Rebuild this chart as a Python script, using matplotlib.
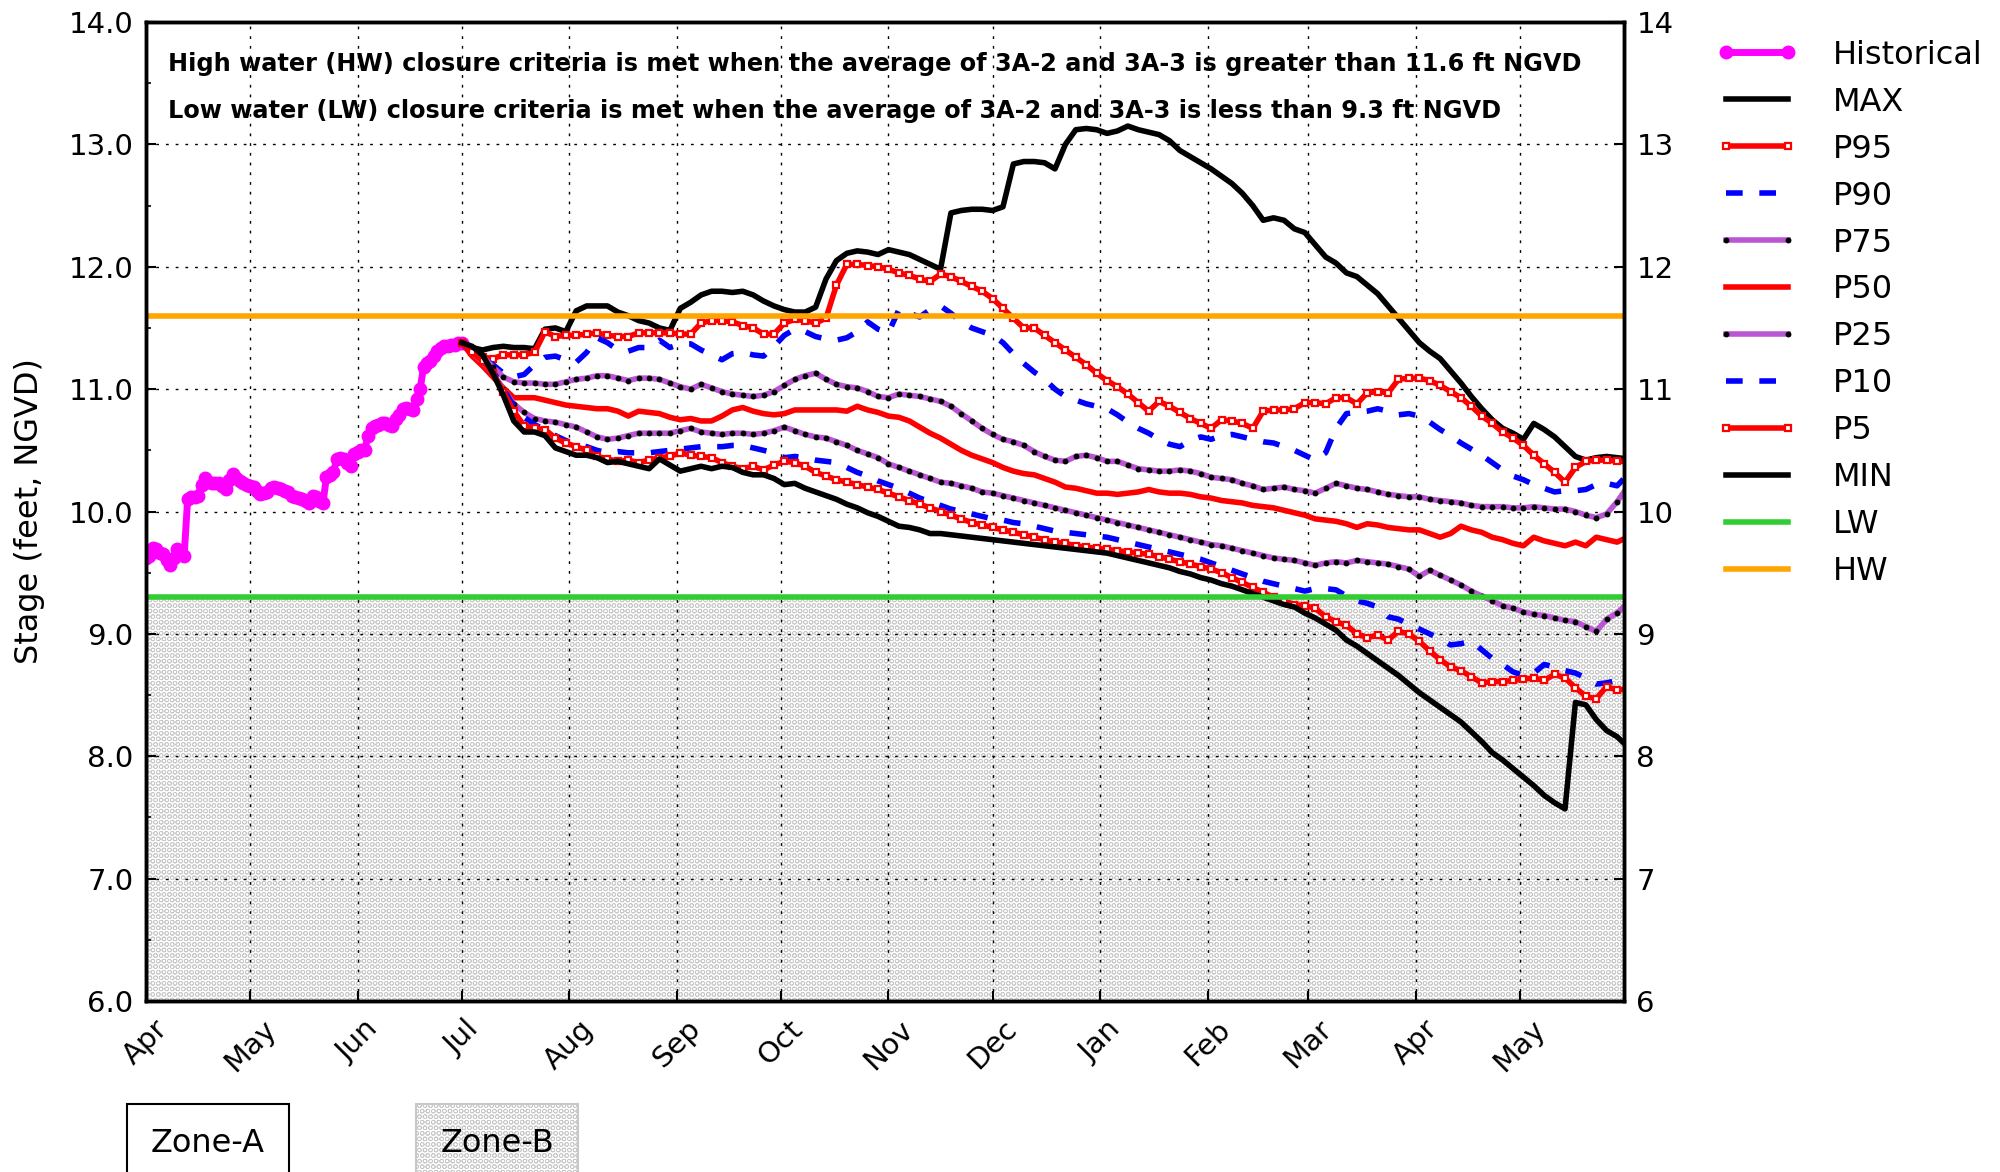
import matplotlib
matplotlib.use("Agg")
import matplotlib.pyplot as plt
import matplotlib.dates as mdates
from matplotlib.ticker import MultipleLocator, FormatStrFormatter
import pandas as pd

plt.rcParams['font.family'] = ['DejaVu Sans']
plt.rcParams['hatch.linewidth'] = 0.55

# ---------------- data ----------------
x_start = '2023-04-01'
x_end = '2024-05-31'

hist_start = '2023-04-01'          # daily observations
hist_stage = [
    9.62, 9.64, 9.70, 9.69, 9.66, 9.65, 9.60, 9.56, 9.62, 9.69,
    9.66, 9.64, 10.10, 10.12, 10.12, 10.13, 10.22, 10.27, 10.24, 10.23,
    10.23, 10.23, 10.21, 10.18, 10.26, 10.31, 10.27, 10.25, 10.23, 10.22,
    10.21, 10.20, 10.17, 10.14, 10.15, 10.16, 10.19, 10.20, 10.19, 10.18,
    10.17, 10.16, 10.13, 10.12, 10.11, 10.10, 10.09, 10.07, 10.13, 10.12,
    10.09, 10.07, 10.28, 10.30, 10.32, 10.43, 10.44, 10.43, 10.40, 10.37,
    10.47, 10.49, 10.50, 10.50, 10.62, 10.68, 10.70, 10.71, 10.72, 10.72,
    10.71, 10.70, 10.76, 10.79, 10.84, 10.85, 10.84, 10.83, 10.92, 11.00,
    11.18, 11.21, 11.23, 11.27, 11.31, 11.34, 11.35, 11.35, 11.36, 11.36,
    11.38, 11.38,
]

fc_start = '2023-07-01'            # forecast values every 3 days
fc_freq = '3D'

max_stage = [
    11.38, 11.34, 11.32, 11.34, 11.35, 11.34, 11.34, 11.33, 11.49, 11.50,
    11.47, 11.64, 11.68, 11.68, 11.68, 11.63, 11.60, 11.56, 11.54, 11.50,
    11.48, 11.66, 11.71, 11.77, 11.80, 11.80, 11.79, 11.80, 11.77, 11.72,
    11.68, 11.65, 11.63, 11.63, 11.67, 11.90, 12.05, 12.11, 12.13, 12.12,
    12.10, 12.14, 12.12, 12.10, 12.06, 12.02, 11.98, 12.44, 12.46, 12.47,
    12.47, 12.46, 12.49, 12.84, 12.86, 12.86, 12.85, 12.80, 13.00, 13.12,
    13.13, 13.12, 13.09, 13.11, 13.15, 13.12, 13.10, 13.08, 13.03, 12.95,
    12.90, 12.85, 12.80, 12.74, 12.68, 12.60, 12.50, 12.38, 12.40, 12.38,
    12.31, 12.28, 12.18, 12.08, 12.03, 11.95, 11.92, 11.85, 11.78, 11.68,
    11.58, 11.48, 11.38, 11.31, 11.25, 11.15, 11.05, 10.94, 10.84, 10.75,
    10.68, 10.64, 10.59, 10.72, 10.67, 10.61, 10.53, 10.45, 10.42, 10.44,
    10.45, 10.44, 10.43,
]
p95_stage = [
    11.38, 11.31, 11.26, 11.25, 11.28, 11.28, 11.28, 11.30, 11.47, 11.43,
    11.44, 11.44, 11.45, 11.46, 11.44, 11.43, 11.43, 11.46, 11.46, 11.46,
    11.46, 11.45, 11.45, 11.54, 11.56, 11.56, 11.55, 11.52, 11.50, 11.45,
    11.45, 11.54, 11.57, 11.56, 11.54, 11.58, 11.85, 12.02, 12.02, 12.01,
    12.00, 11.98, 11.95, 11.93, 11.90, 11.88, 11.94, 11.92, 11.88, 11.84,
    11.80, 11.74, 11.66, 11.58, 11.50, 11.50, 11.44, 11.38, 11.32, 11.26,
    11.20, 11.13, 11.07, 11.02, 10.96, 10.89, 10.82, 10.90, 10.86, 10.81,
    10.76, 10.72, 10.68, 10.75, 10.74, 10.72, 10.68, 10.82, 10.83, 10.83,
    10.84, 10.89, 10.89, 10.88, 10.93, 10.93, 10.88, 10.97, 10.98, 10.97,
    11.08, 11.09, 11.09, 11.07, 11.03, 10.98, 10.93, 10.86, 10.78, 10.72,
    10.65, 10.60, 10.54, 10.46, 10.39, 10.32, 10.24, 10.36, 10.41, 10.42,
    10.42, 10.41, 10.41,
]
p90_stage = [
    11.38, 11.30, 11.25, 11.20, 11.13, 11.10, 11.12, 11.20, 11.26, 11.27,
    11.24, 11.22, 11.30, 11.42, 11.38, 11.32, 11.31, 11.34, 11.34, 11.40,
    11.34, 11.37, 11.37, 11.32, 11.28, 11.24, 11.29, 11.30, 11.28, 11.27,
    11.35, 11.44, 11.49, 11.47, 11.43, 11.41, 11.40, 11.42, 11.47, 11.55,
    11.49, 11.46, 11.65, 11.62, 11.59, 11.65, 11.68, 11.62, 11.55, 11.50,
    11.47, 11.44, 11.38, 11.29, 11.21, 11.14, 11.08, 11.00, 10.94, 10.91,
    10.88, 10.86, 10.84, 10.79, 10.73, 10.68, 10.64, 10.59, 10.55, 10.53,
    10.58, 10.61, 10.59, 10.62, 10.63, 10.61, 10.59, 10.57, 10.56, 10.53,
    10.50, 10.46, 10.42, 10.48, 10.68, 10.80, 10.81, 10.82, 10.84, 10.82,
    10.79, 10.80, 10.78, 10.73, 10.67, 10.62, 10.56, 10.51, 10.46, 10.40,
    10.34, 10.29, 10.26, 10.22, 10.19, 10.16, 10.17, 10.17, 10.18, 10.22,
    10.23, 10.21, 10.30,
]
p75_stage = [
    11.38, 11.32, 11.27, 11.18, 11.10, 11.06, 11.05, 11.05, 11.04, 11.04,
    11.06, 11.08, 11.09, 11.11, 11.11, 11.09, 11.07, 11.09, 11.09, 11.08,
    11.05, 11.02, 11.00, 11.04, 11.01, 10.98, 10.96, 10.95, 10.94, 10.95,
    10.98, 11.03, 11.08, 11.11, 11.13, 11.08, 11.04, 11.02, 11.01, 10.98,
    10.94, 10.93, 10.96, 10.95, 10.94, 10.92, 10.90, 10.86, 10.80, 10.74,
    10.68, 10.63, 10.59, 10.57, 10.54, 10.49, 10.45, 10.42, 10.41, 10.45,
    10.46, 10.44, 10.41, 10.41, 10.38, 10.35, 10.34, 10.33, 10.33, 10.34,
    10.33, 10.31, 10.28, 10.27, 10.26, 10.23, 10.21, 10.18, 10.19, 10.20,
    10.18, 10.17, 10.15, 10.19, 10.23, 10.21, 10.19, 10.18, 10.16, 10.14,
    10.13, 10.12, 10.12, 10.10, 10.09, 10.08, 10.07, 10.05, 10.04, 10.04,
    10.04, 10.03, 10.03, 10.04, 10.03, 10.02, 10.02, 10.00, 9.97, 9.95,
    9.98, 10.08, 10.20,
]
p50_stage = [
    11.38, 11.27, 11.19, 11.10, 11.01, 10.93, 10.93, 10.93, 10.91, 10.89,
    10.87, 10.86, 10.85, 10.84, 10.84, 10.82, 10.78, 10.82, 10.81, 10.80,
    10.77, 10.75, 10.76, 10.74, 10.74, 10.78, 10.83, 10.85, 10.82, 10.80,
    10.79, 10.80, 10.83, 10.83, 10.83, 10.83, 10.83, 10.82, 10.86, 10.83,
    10.81, 10.78, 10.77, 10.74, 10.69, 10.64, 10.60, 10.55, 10.50, 10.46,
    10.43, 10.40, 10.36, 10.33, 10.31, 10.30, 10.27, 10.24, 10.20, 10.19,
    10.17, 10.15, 10.15, 10.14, 10.15, 10.16, 10.18, 10.16, 10.15, 10.15,
    10.14, 10.12, 10.11, 10.09, 10.08, 10.07, 10.05, 10.04, 10.03, 10.01,
    9.99, 9.97, 9.94, 9.93, 9.92, 9.90, 9.87, 9.90, 9.89, 9.87,
    9.86, 9.85, 9.85, 9.82, 9.79, 9.82, 9.88, 9.85, 9.83, 9.79,
    9.77, 9.74, 9.72, 9.79, 9.76, 9.74, 9.72, 9.75, 9.72, 9.79,
    9.77, 9.75, 9.79,
]
p25_stage = [
    11.38, 11.30, 11.22, 11.13, 11.00, 10.88, 10.81, 10.76, 10.74, 10.73,
    10.71, 10.69, 10.65, 10.61, 10.59, 10.60, 10.62, 10.64, 10.64, 10.64,
    10.64, 10.66, 10.68, 10.65, 10.64, 10.63, 10.64, 10.64, 10.63, 10.64,
    10.66, 10.69, 10.66, 10.63, 10.61, 10.60, 10.57, 10.54, 10.50, 10.47,
    10.44, 10.39, 10.36, 10.33, 10.30, 10.27, 10.24, 10.23, 10.21, 10.19,
    10.16, 10.15, 10.13, 10.11, 10.09, 10.07, 10.05, 10.03, 10.01, 9.99,
    9.97, 9.95, 9.93, 9.91, 9.89, 9.87, 9.85, 9.83, 9.81, 9.79,
    9.77, 9.75, 9.73, 9.72, 9.70, 9.68, 9.66, 9.64, 9.62, 9.61,
    9.60, 9.58, 9.56, 9.58, 9.59, 9.58, 9.60, 9.59, 9.58, 9.57,
    9.55, 9.53, 9.47, 9.52, 9.48, 9.44, 9.40, 9.35, 9.31, 9.27,
    9.23, 9.21, 9.18, 9.16, 9.15, 9.13, 9.11, 9.10, 9.06, 9.02,
    9.12, 9.17, 9.25,
]
p10_stage = [
    11.38, 11.30, 11.24, 11.15, 11.00, 10.86, 10.77, 10.71, 10.67, 10.62,
    10.58, 10.55, 10.53, 10.50, 10.48, 10.49, 10.48, 10.48, 10.48, 10.49,
    10.50, 10.51, 10.52, 10.53, 10.53, 10.53, 10.54, 10.54, 10.52, 10.50,
    10.48, 10.44, 10.45, 10.44, 10.42, 10.41, 10.40, 10.36, 10.32, 10.29,
    10.25, 10.22, 10.19, 10.15, 10.11, 10.08, 10.05, 10.02, 10.00, 9.98,
    9.96, 9.94, 9.93, 9.91, 9.90, 9.88, 9.86, 9.84, 9.83, 9.82,
    9.81, 9.80, 9.79, 9.77, 9.75, 9.73, 9.71, 9.69, 9.67, 9.65,
    9.63, 9.61, 9.58, 9.55, 9.52, 9.49, 9.46, 9.43, 9.41, 9.39,
    9.37, 9.35, 9.37, 9.37, 9.36, 9.31, 9.27, 9.25, 9.22, 9.14,
    9.12, 9.08, 9.04, 9.00, 8.96, 8.91, 8.92, 8.94, 8.87, 8.80,
    8.75, 8.69, 8.66, 8.68, 8.75, 8.73, 8.70, 8.68, 8.64, 8.59,
    8.60, 8.62, 8.58,
]
p5_stage = [
    11.38, 11.30, 11.23, 11.13, 10.98, 10.82, 10.70, 10.68, 10.67, 10.60,
    10.56, 10.53, 10.50, 10.45, 10.43, 10.41, 10.42, 10.40, 10.42, 10.44,
    10.45, 10.48, 10.46, 10.45, 10.44, 10.40, 10.37, 10.35, 10.37, 10.34,
    10.38, 10.41, 10.40, 10.37, 10.32, 10.29, 10.26, 10.24, 10.22, 10.20,
    10.18, 10.15, 10.12, 10.09, 10.06, 10.03, 10.00, 9.97, 9.94, 9.91,
    9.89, 9.87, 9.85, 9.83, 9.81, 9.79, 9.77, 9.75, 9.74, 9.72,
    9.71, 9.70, 9.69, 9.68, 9.67, 9.66, 9.65, 9.63, 9.61, 9.59,
    9.57, 9.55, 9.53, 9.50, 9.46, 9.42, 9.38, 9.34, 9.30, 9.27,
    9.24, 9.23, 9.21, 9.14, 9.10, 9.07, 9.00, 8.97, 8.99, 8.95,
    9.02, 9.00, 8.94, 8.86, 8.79, 8.73, 8.70, 8.65, 8.60, 8.61,
    8.61, 8.62, 8.63, 8.64, 8.62, 8.67, 8.64, 8.56, 8.49, 8.47,
    8.57, 8.54, 8.55,
]
min_stage = [
    11.38, 11.35, 11.28, 11.13, 10.95, 10.74, 10.65, 10.65, 10.62, 10.52,
    10.49, 10.46, 10.46, 10.44, 10.40, 10.41, 10.39, 10.37, 10.35, 10.43,
    10.38, 10.33, 10.35, 10.37, 10.35, 10.37, 10.36, 10.32, 10.30, 10.30,
    10.27, 10.22, 10.23, 10.19, 10.16, 10.13, 10.10, 10.06, 10.03, 9.99,
    9.96, 9.92, 9.88, 9.87, 9.85, 9.82, 9.82, 9.81, 9.80, 9.79,
    9.78, 9.77, 9.76, 9.75, 9.74, 9.73, 9.72, 9.71, 9.70, 9.69,
    9.68, 9.67, 9.66, 9.64, 9.62, 9.60, 9.58, 9.56, 9.54, 9.51,
    9.49, 9.46, 9.44, 9.41, 9.39, 9.36, 9.33, 9.30, 9.27, 9.24,
    9.22, 9.17, 9.13, 9.08, 9.03, 8.95, 8.90, 8.84, 8.78, 8.72,
    8.66, 8.59, 8.52, 8.46, 8.40, 8.34, 8.28, 8.20, 8.12, 8.03,
    7.97, 7.90, 7.83, 7.76, 7.68, 7.62, 7.57, 8.44, 8.42, 8.30,
    8.21, 8.16, 8.08,
]

lw_level = 9.3
hw_level = 11.6
y_min, y_max = 6, 14

text_hw = "High water (HW) closure criteria is met when the average of 3A-2 and 3A-3 is greater than 11.6 ft NGVD"
text_lw = "Low water (LW) closure criteria is met when the average of 3A-2 and 3A-3 is less than 9.3 ft NGVD"

# ---------------- figure ----------------
hist_dates = pd.date_range(hist_start, periods=len(hist_stage), freq='D')
fc_dates = pd.date_range(fc_start, periods=len(max_stage), freq=fc_freq)

fig = plt.figure(figsize=(20, 11.72), dpi=100)
ax = fig.add_axes([0.073, 0.1459, 0.739, 0.8353])
ax.set_xlim(pd.Timestamp(x_start), pd.Timestamp(x_end))
ax.set_ylim(y_min, y_max)

HATCH_COLOR = '#c8c8c8'
HATCH = 'OOO'

# Zone-B hatched area below LW
ax.axhspan(y_min, lw_level, facecolor='white', edgecolor=HATCH_COLOR,
           hatch=HATCH, linewidth=0, zorder=0.5)

ax.set_axisbelow('line')
ax.grid(True, which='major', color='black', linestyle=(0, (2, 5)), linewidth=1.0)

LW = 4
ax.plot(hist_dates, hist_stage, color='#FF00FF', lw=5, marker='o', ms=9,
        mec='#FF00FF', label='Historical')
ax.plot(fc_dates, max_stage, color='black', lw=LW, label='MAX')
ax.plot(fc_dates, p95_stage, color='red', lw=LW, marker='s', ms=4.5,
        mfc='white', mec='red', mew=1.6, label='P95')
ax.plot(fc_dates, p90_stage, color='blue', lw=LW, dashes=(3, 3), label='P90')
ax.plot(fc_dates, p75_stage, color='#BA55D3', lw=LW, marker='o', ms=3.2,
        mfc='black', mec='black', label='P75')
ax.plot(fc_dates, p50_stage, color='red', lw=LW, label='P50')
ax.plot(fc_dates, p25_stage, color='#BA55D3', lw=LW, marker='o', ms=3.2,
        mfc='black', mec='black', label='P25')
ax.plot(fc_dates, p10_stage, color='blue', lw=LW, dashes=(3, 3), label='P10')
ax.plot(fc_dates, p5_stage, color='red', lw=LW, marker='s', ms=4.5,
        mfc='white', mec='red', mew=1.6, label='P5')
ax.plot(fc_dates, min_stage, color='black', lw=LW, label='MIN')
ax.axhline(lw_level, color='#32CD32', lw=LW, label='LW')
ax.axhline(hw_level, color='#FFA500', lw=LW, label='HW')

# axes formatting
ax.yaxis.set_major_locator(MultipleLocator(1))
ax.yaxis.set_minor_locator(MultipleLocator(0.5))
ax.yaxis.set_major_formatter(FormatStrFormatter('%.1f'))
ax.xaxis.set_major_locator(mdates.MonthLocator())
ax.xaxis.set_major_formatter(mdates.DateFormatter('%b'))
ax.tick_params(axis='both', which='major', direction='in', length=7, width=1.5,
               labelsize=21, pad=9)
ax.tick_params(axis='y', which='minor', direction='in', length=3.5, width=1.2)
ax.tick_params(axis='x', labelrotation=45, pad=10)
for sp in ax.spines.values():
    sp.set_linewidth(2.5)

ax.set_ylabel('Stage (feet, NGVD)', fontsize=23)
ax.yaxis.set_label_coords(-0.068, 0.5)

ax2 = ax.twinx()
ax2.set_ylim(y_min, y_max)
ax2.yaxis.set_major_locator(MultipleLocator(1))
ax2.yaxis.set_major_formatter(FormatStrFormatter('%d'))
ax2.tick_params(axis='y', direction='in', length=7, width=1.5, labelsize=21, pad=9)
for sp in ax2.spines.values():
    sp.set_linewidth(2.5)

ax.text(0.015, 0.957, text_hw, transform=ax.transAxes, fontsize=17.3,
        fontweight='bold', va='center', ha='left', zorder=5)
ax.text(0.015, 0.909, text_lw, transform=ax.transAxes, fontsize=17.3,
        fontweight='bold', va='center', ha='left', zorder=5)

handles, labels = ax.get_legend_handles_labels()
ax2.legend(handles, labels, loc='upper left', bbox_to_anchor=(0.858, 0.9662),
           bbox_transform=fig.transFigure, frameon=False, numpoints=2,
           fontsize=23, handlelength=2.56, handletextpad=1.1, labelspacing=0.5,
           borderpad=0, borderaxespad=0)

fig.text(0.104, 0.0247, 'Zone-A', fontsize=23, ha='center', va='center',
         bbox=dict(boxstyle='square,pad=0.75', facecolor='white',
                   edgecolor='black', linewidth=1.5))
fig.text(0.2485, 0.0247, 'Zone-B', fontsize=23, ha='center', va='center',
         bbox=dict(boxstyle='square,pad=0.75', facecolor='white',
                   edgecolor=HATCH_COLOR, hatch=HATCH, linewidth=1.5))

fig.savefig('out.png', dpi=100)
